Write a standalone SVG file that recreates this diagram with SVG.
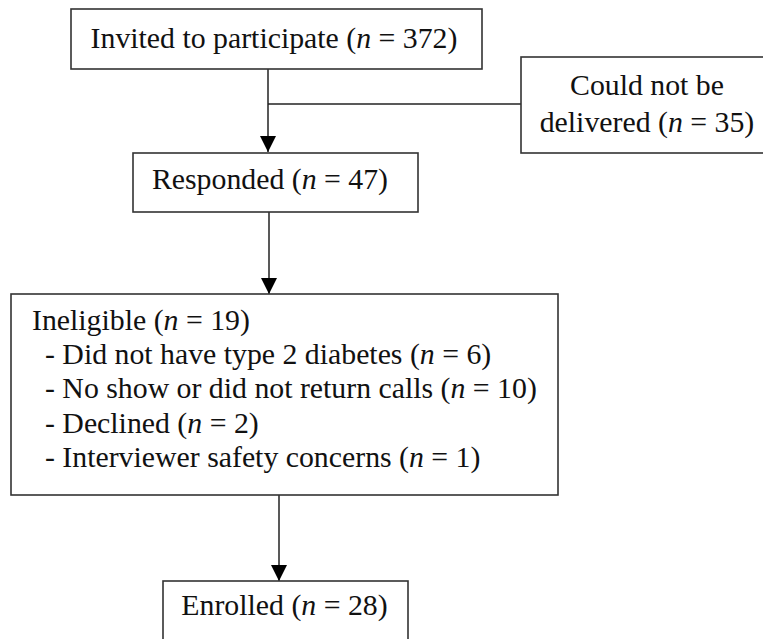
<svg xmlns="http://www.w3.org/2000/svg" width="763" height="639" viewBox="0 0 763 639">
<defs>
<style>
.box{fill:#fff;stroke:#333;stroke-width:1.6}
.t{font-family:"Liberation Serif","Times New Roman",serif;font-size:29.8px;fill:#111}
.m{text-anchor:middle}
.i{font-style:italic}
.c{stroke:#222;stroke-width:1.5;fill:none}
</style>
<marker id="ah" markerUnits="userSpaceOnUse" markerWidth="16" markerHeight="16" viewBox="0 0 14 14" refX="14" refY="7" orient="auto">
<path d="M0,0 L14,7 L0,14 Z" fill="#000"/>
</marker>
</defs>
<rect width="763" height="639" fill="#fff"/>
<g id="connectors">
<line class="c" x1="268" y1="69" x2="268" y2="152" marker-end="url(#ah)"/>
<line class="c" x1="268" y1="104" x2="521" y2="104"/>
<line class="c" x1="269" y1="212" x2="269" y2="294" marker-end="url(#ah)"/>
<line class="c" x1="279" y1="495" x2="279" y2="581" marker-end="url(#ah)"/>
</g>
<g id="invited">
<rect class="box" x="71" y="9" width="411" height="60"/>
<text class="t m" x="274" y="48">Invited to participate (<tspan class="i">n</tspan> = 372)</text>
</g>
<g id="not-delivered">
<rect class="box" x="521" y="57" width="252" height="96"/>
<text class="t m" x="647" y="95">Could not be</text>
<text class="t m" x="647" y="132">delivered (<tspan class="i">n</tspan> = 35)</text>
</g>
<g id="responded">
<rect class="box" x="133" y="153" width="285" height="59"/>
<text class="t m" x="270" y="189">Responded (<tspan class="i">n</tspan> = 47)</text>
</g>
<g id="ineligible">
<rect class="box" x="11" y="294" width="547" height="201"/>
<text class="t" x="32" y="330">Ineligible (<tspan class="i">n</tspan> = 19)</text>
<text class="t" x="45" y="364">- Did not have type 2 diabetes (<tspan class="i">n</tspan> = 6)</text>
<text class="t" x="45" y="398">- No show or did not return calls (<tspan class="i">n</tspan> = 10)</text>
<text class="t" x="45" y="433">- Declined (<tspan class="i">n</tspan> = 2)</text>
<text class="t" x="45" y="467">- Interviewer safety concerns (<tspan class="i">n</tspan> = 1)</text>
</g>
<g id="enrolled">
<rect class="box" x="163" y="581" width="245" height="70"/>
<text class="t m" x="284.5" y="615">Enrolled (<tspan class="i">n</tspan> = 28)</text>
</g>
</svg>
